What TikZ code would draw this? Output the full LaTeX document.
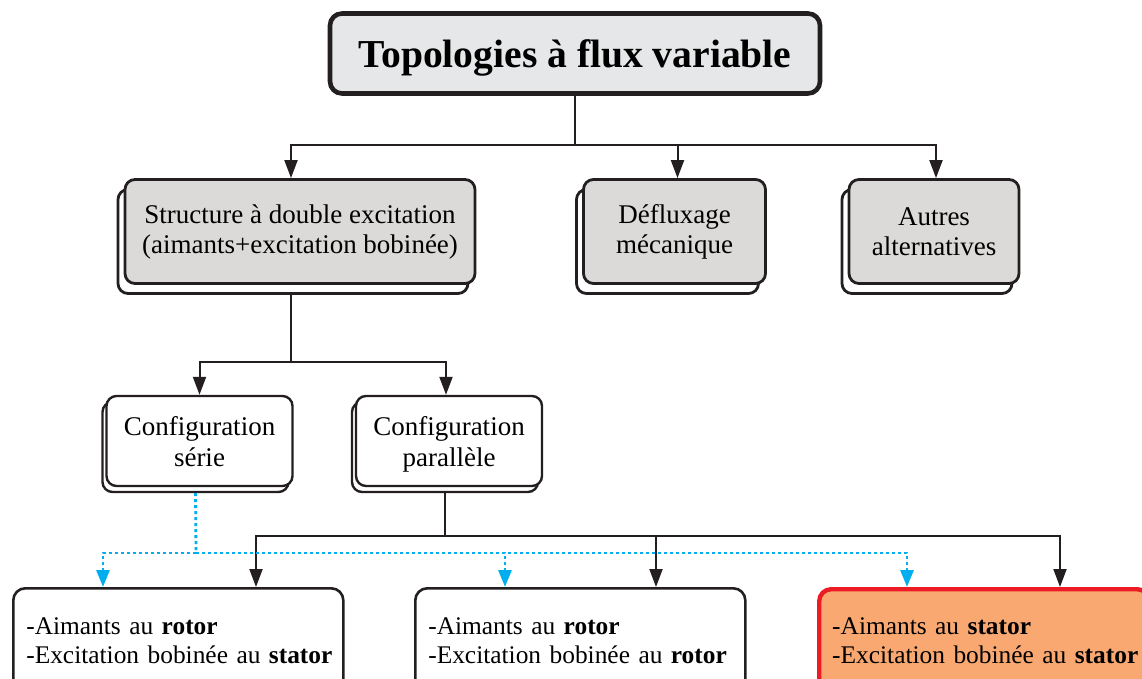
\documentclass[tikz,border=0pt]{standalone}
\usepackage{fontspec}
\setmainfont{Liberation Serif}
\usepackage{xcolor}
\usetikzlibrary{arrows.meta,shadows}

\definecolor{trait}{HTML}{231F20}
\definecolor{grisclair}{HTML}{E6E7E8}
\definecolor{grisboite}{HTML}{DCDAD9}
\definecolor{orangeboite}{HTML}{F8A870}
\definecolor{rougeboite}{HTML}{ED1C24}
\definecolor{cyanlien}{HTML}{00AEEF}

\begin{document}
\begin{tikzpicture}[x=0.5pt,y=-0.5pt,
    titre/.style={draw=trait,line width=2.3pt,rounded corners=6pt,fill=grisclair,text depth=0pt,
      minimum width=245pt,minimum height=40pt,font=\fontsize{19.8}{24}\selectfont\bfseries},
    niveau/.style={draw=trait,line width=1.4pt,rounded corners=5pt,fill=grisboite,
      minimum height=52pt,align=center,font=\fontsize{13.5}{15}\selectfont,
      copy shadow={fill=white,draw=trait,line width=1.4pt,shadow xshift=-3.5pt,shadow yshift=-5pt}},
    config/.style={draw=trait,line width=1.2pt,rounded corners=5pt,fill=white,text depth=0pt,
      minimum width=93pt,minimum height=45pt,align=center,font=\fontsize{13.5}{15.5}\selectfont,
      copy shadow={fill=white,draw=trait,line width=1.2pt,shadow xshift=-2pt,shadow yshift=-3pt}},
    bas/.style={draw=trait,line width=1.3pt,rounded corners=6pt,fill=white,anchor=north west,
      minimum height=52pt,inner xsep=6.5pt,text width=152pt,align=left,
      font=\fontsize{12.7}{14.5}\selectfont},
    choix/.style={bas,draw=rougeboite,line width=2.2pt,fill=orangeboite},
    lien/.style={draw=trait,line width=1pt},
    fleche/.style={lien,-{Triangle[width=6.5pt,length=9pt]}},
    pointille/.style={draw=cyanlien,line width=1.4pt,dash pattern=on 1.5pt off 1.5pt,
      -{Triangle[width=6.5pt,length=8.5pt]}}]
    \useasboundingbox (0,0) rectangle (1142,679);
    \clip (0,0) rectangle (1142,679);

    \node (top) at (575,53.5) [titre] {Topologies à flux variable};

    \node (struct) at (300,231.5) [niveau,minimum width=175pt] {Structure à double excitation\\(aimants+excitation bobinée)};
    \node (deflux) at (674.5,231.5) [niveau,minimum width=91pt] {Défluxage\\mécanique};
    \node (autres) at (934,231.5) [niveau,minimum width=85pt] {Autres\\alternatives};

    \node (serie) at (199.5,441) [config] {Configuration\\série};
    \node (para) at (449,441) [config] {Configuration\\parallèle};

    \node (rotrot) at (12,587) [bas] {\mbox{-Aimants au \textbf{rotor}}\\\mbox{-Excitation bobinée au \textbf{stator}}};
    \node (rotrot2) at (414,587) [bas] {\mbox{-Aimants au \textbf{rotor}}\\\mbox{-Excitation bobinée au \textbf{rotor}}};
    \node (statstat) at (817,587) [choix] {\mbox{-Aimants au \textbf{stator}}\\\mbox{-Excitation bobinée au \textbf{stator}}};

    \coordinate (h1) at (575,145);
    \coordinate (h2) at (291,362);
    \coordinate (h3) at (445,536);
    \coordinate (h4) at (196,553);

    \draw[lien] (top.south) -- (h1);
    \draw[fleche] (h1) -| ([xshift=-4.5pt]struct.north);
    \draw[fleche] (h1) -| ([xshift=1.5pt]deflux.north);
    \draw[fleche] (h1) -| ([xshift=1pt]autres.north);

    \draw[lien] ([xshift=-4.5pt,yshift=-5pt]struct.south) -- (h2);
    \draw[fleche] (h2) -| (serie.north);
    \draw[fleche] (h2) -| ([xshift=-1.5pt]para.north);

    \draw[lien] ([xshift=-2pt,yshift=-3pt]para.south) -- (h3);
    \draw[fleche] (h3) -| ([xshift=122pt]rotrot.north west);
    \draw[fleche] (h3) -| ([xshift=121pt]rotrot2.north west);
    \draw[fleche] (h3) -| ([xshift=121.5pt]statstat.north west);

    \draw[pointille,-] ([xshift=-2pt,yshift=-3pt]serie.south) -- (h4);
    \draw[pointille] (h4) -| ([xshift=45.5pt]rotrot.north west);
    \draw[pointille] (h4) -| ([xshift=45.5pt]rotrot2.north west);
    \draw[pointille] (h4) -| ([xshift=45pt]statstat.north west);

\end{tikzpicture}
\end{document}
